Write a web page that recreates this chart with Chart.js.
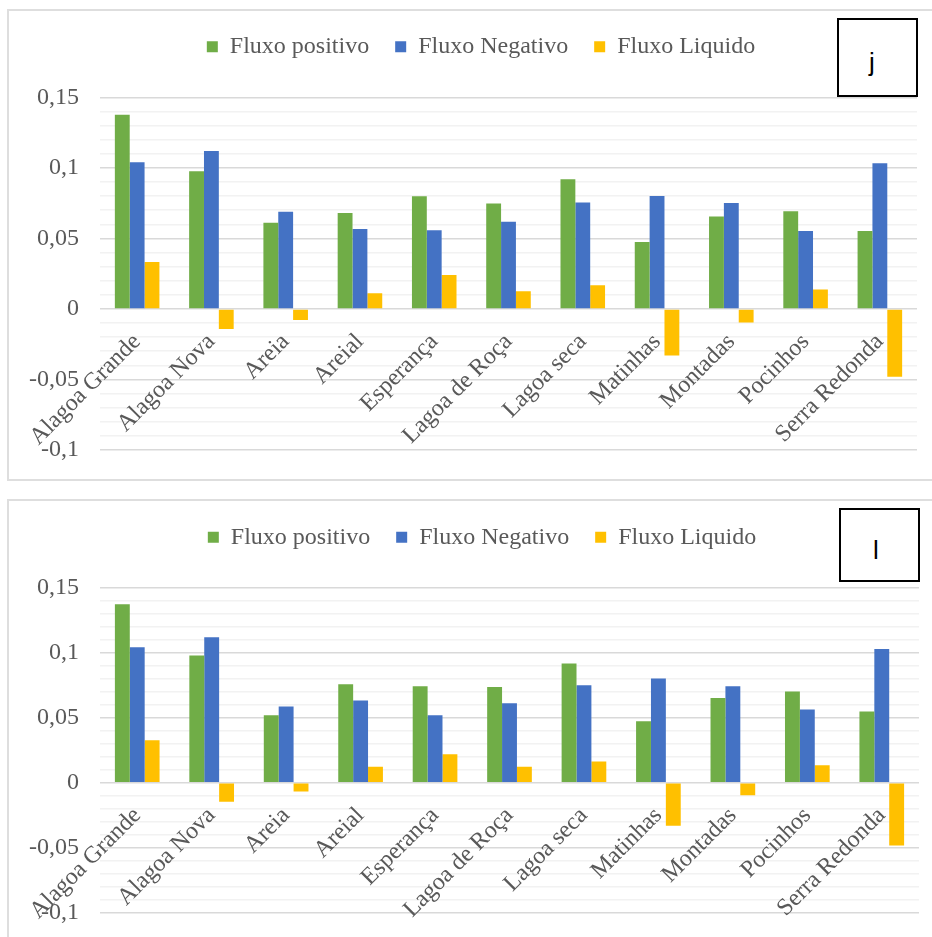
<!DOCTYPE html>
<html>
<head>
<meta charset="utf-8">
<script src="https://cdn.jsdelivr.net/npm/chart.js@4.4.1/dist/chart.umd.min.js"></script>
<style>
  body { margin: 0; width: 932px; height: 937px; overflow: hidden; background: #fff; position: relative; }
  .panel { position: absolute; left: 7px; width: 950px; border: 2px solid #dedede; background: #fff; }
  .panel canvas { display: block; }
  .tag { position: absolute; border: 2px solid #000; box-sizing: border-box; background: #fff; }
  .tag span { position: absolute; width: 40px; text-align: center; font: 26px "Liberation Sans", Arial, sans-serif; line-height: 26px; color: #000; }
</style>
</head>
<body>
<div class="panel" style="top:9px; height:468px;"><canvas id="chartJ" width="946" height="468"></canvas></div>
<div class="panel" style="top:499px; height:458px;"><canvas id="chartL" width="946" height="458"></canvas></div>
<div class="tag" style="left:837px; top:18px; width:81px; height:79px;"><span style="left:13px; top:29px;">j</span></div>
<div class="tag" style="left:839px; top:508px; width:81px; height:74px;"><span style="left:15px; top:27px;">l</span></div>

<script>
// Municipios
const categories = ["Alagoa Grande", "Alagoa Nova", "Areia", "Areial", "Esperança", "Lagoa de Roça",
    "Lagoa seca", "Matinhas", "Montadas", "Pocinhos", "Serra Redonda"];

// Painel j
const positivoJ = [0.1376, 0.0976, 0.0610, 0.0680, 0.0799, 0.0747, 0.0920, 0.0475, 0.0655, 0.0693, 0.0553];
const negativoJ = [0.1040, 0.1120, 0.0688, 0.0567, 0.0558, 0.0617, 0.0754, 0.0801, 0.0750, 0.0553, 0.1033];
const liquidoJ = [0.0333, -0.0142, -0.0078, 0.0111, 0.0241, 0.0125, 0.0168, -0.0331, -0.0097, 0.0137, -0.0480];

// Painel l
const positivoL = [0.1373, 0.0978, 0.0519, 0.0758, 0.0742, 0.0737, 0.0917, 0.0473, 0.0652, 0.0702, 0.0548];
const negativoL = [0.1042, 0.1119, 0.0586, 0.0632, 0.0519, 0.0612, 0.0750, 0.0801, 0.0742, 0.0563, 0.1029];
const liquidoL = [0.0327, -0.0147, -0.0068, 0.0122, 0.0219, 0.0122, 0.0163, -0.0332, -0.0096, 0.0135, -0.0483];

// Eixo Y
const yMajorTicks = [-0.1, -0.05, 0, 0.05, 0.1, 0.15];
const yMajorLabels = ["-0,1", "-0,05", "0", "0,05", "0,1", "0,15"];

const seriesNames = ["Fluxo positivo", "Fluxo Negativo", "Fluxo Liquido"];
const seriesColors = ["#70AD47", "#4472C4", "#FFC000"];

const textGray = "#595959";
const serif = "'Liberation Serif', 'Times New Roman', serif";

function majorIndex(v) {
    return yMajorTicks.findIndex((m) => Math.abs(m - v) < 1e-6);
}

// moves the legend after layout so it sits where we want it
const legendShift = {
    id: "legendShift",
    afterLayout(chart, args, opts) {
        const lg = chart.legend;
        if (!lg) return;
        lg.left += opts.dx;
        lg.right += opts.dx;
        lg.top += opts.dy;
        lg.bottom += opts.dy;
    },
};

function buildChart(canvasId, values, pad, shift) {
    const ctx = document.getElementById(canvasId).getContext("2d");
    return new Chart(ctx, {
        type: "bar",
        data: {
            labels: categories,
            datasets: values.map((data, i) => ({
                label: seriesNames[i],
                data: data,
                backgroundColor: seriesColors[i],
                borderWidth: 0,
                categoryPercentage: 0.6,
                barPercentage: 1.0,
            })),
        },
        plugins: [legendShift],
        options: {
            responsive: false,
            animation: false,
            devicePixelRatio: 1,
            events: [],
            layout: { padding: pad },
            plugins: {
                tooltip: { enabled: false },
                legendShift: shift,
                legend: {
                    position: "top",
                    labels: {
                        boxWidth: 11,
                        boxHeight: 11,
                        padding: 26,
                        color: textGray,
                        font: { family: serif, size: 24 },
                    },
                },
            },
            scales: {
                x: {
                    position: { y: 0 },
                    grid: { display: false },
                    border: { display: false },
                    ticks: {
                        autoSkip: false,
                        minRotation: 45,
                        maxRotation: 45,
                        padding: 11,
                        color: textGray,
                        font: { family: serif, size: 24 },
                    },
                },
                y: {
                    min: -0.1,
                    max: 0.15,
                    afterFit: (scale) => {
                        scale.width = 91;
                    },
                    border: { display: false },
                    grid: {
                        drawTicks: true,
                        tickLength: 18,
                        tickColor: "rgba(0,0,0,0)",
                        lineWidth: 1.5,
                        color: (c) => (majorIndex(c.tick.value) >= 0 ? "#d9d9d9" : "#f2f2f2"),
                    },
                    ticks: {
                        stepSize: 0.01,
                        maxTicksLimit: 100,
                        autoSkip: false,
                        padding: 3,
                        color: textGray,
                        font: { family: serif, size: 24 },
                        callback: (value) => {
                            const k = majorIndex(value);
                            return k >= 0 ? yMajorLabels[k] : "";
                        },
                    },
                },
            },
        },
    });
}

buildChart("chartJ", [positivoJ, negativoJ, liquidoJ],
    { top: 26.3, right: 38, bottom: 29, left: 0 }, { dx: 18, dy: -28.6 });
buildChart("chartL", [positivoL, negativoL, liquidoL],
    { top: 26.7, right: 36, bottom: 46.3, left: 0 }, { dx: 18, dy: -28.4 });
</script>
</body>
</html>
